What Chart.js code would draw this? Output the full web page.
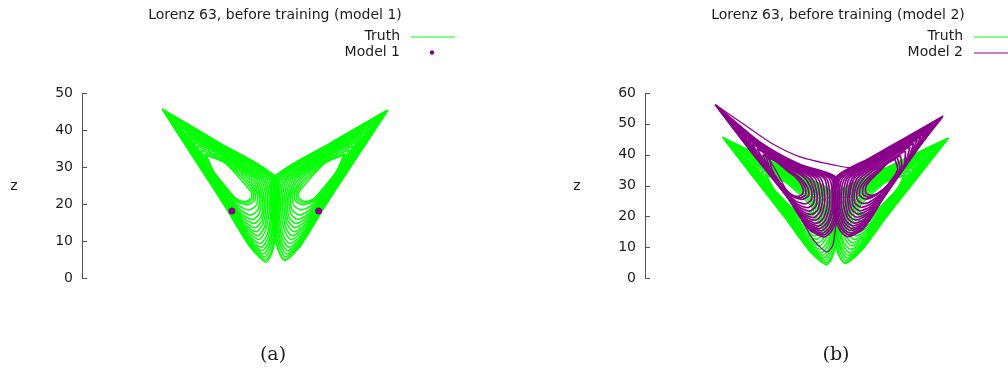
<!DOCTYPE html>
<html>
<head>
<meta charset="utf-8">
<script src="https://cdn.jsdelivr.net/npm/chart.js@4/dist/chart.umd.min.js"></script>
<style>
  html, body { margin: 0; padding: 0; background: #fff; width: 1008px; height: 372px; overflow: hidden; }
  .panel { position: absolute; top: 0; width: 504px; height: 372px; }
  #panelA { left: 0; }
  #panelB { left: 563px; }
</style>
</head>
<body>
<div class="panel" id="panelA"><canvas id="chartA" width="504" height="372"></canvas></div>
<div class="panel" id="panelB"><canvas id="chartB" width="504" height="372"></canvas></div>
<script>
// Lorenz 63 trajectories projected on the x–z plane.
// Each loop is a flat list of (x, z) pairs going round one lobe of the attractor.

const zTicksA = [0, 10, 20, 30, 40, 50];
const zTicksB = [0, 10, 20, 30, 40, 50, 60];

// Truth: loops around the left fixed point, outermost first
const truthLeft = [
  [-20.2,45.7, -15.0,33.5, -9.0,19.5, -4.5,8.5, -1.6,4.3, -0.4,7.5, 0.6,17.0, 0.3,27.0, -10.0,36.6],
  [-19.9,45.2, -14.8,33.3, -9.0,19.7, -4.6,9.0, -1.7,4.9, -0.5,8.0, 0.4,17.2, 0.1,27.0, -9.9,36.4],
  [-19.5,44.6, -14.7,33.1, -9.0,19.9, -4.7,9.6, -1.9,5.7, -0.7,8.7, 0.2,17.6, -0.2,27.0, -9.9,36.1],
  [-19.1,44.0, -14.5,32.9, -8.9,20.1, -4.8,10.2, -2.1,6.5, -0.9,9.4, 0.0,17.9, -0.5,27.0, -9.8,35.8],
  [-18.7,43.3, -14.2,32.6, -8.9,20.4, -4.9,10.9, -2.3,7.4, -1.0,10.2, -0.2,18.2, -0.8,27.0, -9.7,35.4],
  [-18.2,42.6, -14.0,32.3, -8.9,20.7, -5.1,11.7, -2.5,8.3, -1.2,11.0, -0.5,18.6, -1.1,26.9, -9.6,35.1],
  [-17.8,41.8, -13.8,32.1, -8.9,20.9, -5.2,12.4, -2.7,9.3, -1.4,11.8, -0.7,19.0, -1.5,26.9, -9.5,34.7],
  [-17.2,41.0, -13.5,31.7, -8.8,21.3, -5.3,13.2, -2.9,10.4, -1.7,12.8, -1.0,19.4, -1.9,26.9, -9.4,34.3],
  [-16.7,40.1, -13.3,31.4, -8.8,21.6, -5.5,14.1, -3.1,11.4, -1.9,13.7, -1.3,19.9, -2.2,26.9, -9.3,33.9],
  [-16.2,39.3, -13.0,31.1, -8.8,21.9, -5.6,14.9, -3.4,12.5, -2.1,14.7, -1.6,20.3, -2.6,26.9, -9.2,33.5],
  [-15.6,38.4, -12.7,30.8, -8.8,22.2, -5.8,15.8, -3.6,13.6, -2.3,15.6, -1.9,20.7, -3.0,26.9, -9.0,33.1],
  [-15.1,37.6, -12.5,30.5, -8.7,22.5, -5.9,16.6, -3.8,14.7, -2.5,16.5, -2.2,21.2, -3.4,26.9, -8.9,32.7],
  [-14.6,36.8, -12.2,30.2, -8.7,22.8, -6.1,17.5, -4.0,15.8, -2.8,17.5, -2.5,21.6, -3.8,26.9, -8.8,32.3],
  [-14.0,35.8, -11.9,29.8, -8.7,23.2, -6.2,18.4, -4.3,17.0, -3.0,18.6, -2.8,22.1, -4.2,26.8, -8.7,31.8],
  [-13.3,34.7, -11.5,29.4, -8.6,23.6, -6.4,19.5, -4.6,18.4, -3.3,19.8, -3.2,22.6, -4.7,26.8, -8.5,31.3],
  [-12.6,33.6, -11.2,29.0, -8.6,24.0, -6.6,20.6, -4.9,19.8, -3.6,21.0, -3.6,23.2, -5.2,26.8, -8.4,30.8],
  [-12.5,33.5, -11.1,28.9, -8.8,24.4, -6.8,21.0, -5.2,20.3, -4.0,21.2, -3.9,23.1, -5.6,26.6, -8.7,31.0],
  [-12.3,33.3, -11.0,28.8, -8.9,24.8, -6.9,21.4, -5.4,20.7, -4.3,21.5, -4.2,23.0, -6.0,26.4, -9.0,31.2]
];

// Truth: loops around the right fixed point
const truthRight = [
  [20.2,45.4, 15.0,33.4, 9.0,19.6, 4.6,8.8, 1.8,4.8, 0.5,7.8, -0.6,17.0, -0.3,27.0, 10.0,36.5],
  [19.9,45.2, 14.8,33.3, 9.0,19.7, 4.6,9.0, 1.7,4.9, 0.5,8.0, -0.4,17.2, -0.1,27.0, 9.9,36.4],
  [19.5,44.6, 14.7,33.1, 9.0,19.9, 4.7,9.6, 1.9,5.7, 0.7,8.7, -0.2,17.6, 0.2,27.0, 9.9,36.1],
  [19.1,44.0, 14.5,32.9, 8.9,20.1, 4.8,10.2, 2.1,6.5, 0.9,9.4, 0.0,17.9, 0.5,27.0, 9.8,35.8],
  [18.7,43.3, 14.2,32.6, 8.9,20.4, 4.9,10.9, 2.3,7.4, 1.0,10.2, 0.2,18.2, 0.8,27.0, 9.7,35.4],
  [18.2,42.6, 14.0,32.3, 8.9,20.7, 5.1,11.7, 2.5,8.3, 1.2,11.0, 0.5,18.6, 1.1,26.9, 9.6,35.1],
  [17.8,41.8, 13.8,32.1, 8.9,20.9, 5.2,12.4, 2.7,9.3, 1.4,11.8, 0.7,19.0, 1.5,26.9, 9.5,34.7],
  [17.2,41.0, 13.5,31.7, 8.8,21.3, 5.3,13.2, 2.9,10.4, 1.7,12.8, 1.0,19.4, 1.9,26.9, 9.4,34.3],
  [16.7,40.1, 13.3,31.4, 8.8,21.6, 5.5,14.1, 3.1,11.4, 1.9,13.7, 1.3,19.9, 2.2,26.9, 9.3,33.9],
  [16.2,39.3, 13.0,31.1, 8.8,21.9, 5.6,14.9, 3.4,12.5, 2.1,14.7, 1.6,20.3, 2.6,26.9, 9.2,33.5],
  [15.6,38.4, 12.7,30.8, 8.8,22.2, 5.8,15.8, 3.6,13.6, 2.3,15.6, 1.9,20.7, 3.0,26.9, 9.0,33.1],
  [15.1,37.6, 12.5,30.5, 8.7,22.5, 5.9,16.6, 3.8,14.7, 2.5,16.5, 2.2,21.2, 3.4,26.9, 8.9,32.7],
  [14.6,36.8, 12.2,30.2, 8.7,22.8, 6.1,17.5, 4.0,15.8, 2.8,17.5, 2.5,21.6, 3.8,26.9, 8.8,32.3],
  [14.0,35.8, 11.9,29.8, 8.7,23.2, 6.2,18.4, 4.3,17.0, 3.0,18.6, 2.8,22.1, 4.2,26.8, 8.7,31.8],
  [13.3,34.7, 11.5,29.4, 8.6,23.6, 6.4,19.5, 4.6,18.4, 3.3,19.8, 3.2,22.6, 4.7,26.8, 8.5,31.3],
  [12.6,33.6, 11.2,29.0, 8.6,24.0, 6.6,20.6, 4.9,19.8, 3.6,21.0, 3.6,23.2, 5.2,26.8, 8.4,30.8],
  [12.5,33.5, 11.1,28.9, 8.8,24.4, 6.8,21.0, 5.2,20.3, 4.0,21.2, 3.9,23.1, 5.6,26.6, 8.7,31.0],
  [12.3,33.3, 11.0,28.8, 8.9,24.8, 6.9,21.4, 5.4,20.7, 4.3,21.5, 4.2,23.0, 6.0,26.4, 9.0,31.2]
];

// Model 1 before training: settles on its two fixed points
const model1X = [-7.7, 7.8];
const model1Z = [18.1, 18.1];

// Model 2 before training: loops around its left lobe
const model2Left = [
  [-21.5,56.3, -15.5,42.0, -8.7,26.4, -4.8,16.0, -2.0,13.3, -0.6,15.5, 0.6,22.0, 0.2,32.5, -6.3,36.8, -13.4,44.0],
  [-21.1,55.5, -15.3,41.7, -8.7,26.6, -4.9,16.5, -2.2,13.9, -0.8,16.1, 0.3,22.4, -0.1,32.5, -6.4,36.7, -13.3,43.7],
  [-20.7,54.7, -15.2,41.4, -8.8,26.8, -5.1,17.1, -2.4,14.5, -1.0,16.6, 0.0,22.8, -0.5,32.5, -6.5,36.7, -13.2,43.4],
  [-20.1,53.7, -14.9,41.0, -8.8,27.0, -5.3,17.7, -2.6,15.3, -1.3,17.3, -0.3,23.2, -0.8,32.5, -6.7,36.6, -13.0,43.1],
  [-19.6,52.7, -14.7,40.7, -8.9,27.2, -5.4,18.3, -2.9,16.0, -1.5,18.0, -0.6,23.7, -1.2,32.5, -6.8,36.5, -12.9,42.8],
  [-19.0,51.6, -14.5,40.3, -8.9,27.4, -5.6,19.1, -3.1,16.8, -1.8,18.8, -1.0,24.2, -1.7,32.5, -6.9,36.4, -12.7,42.4],
  [-18.4,50.4, -14.2,39.8, -9.0,27.7, -5.8,19.8, -3.4,17.7, -2.1,19.6, -1.4,24.7, -2.1,32.5, -7.1,36.3, -12.5,42.0],
  [-17.8,49.1, -14.0,39.4, -9.1,28.0, -6.0,20.6, -3.7,18.7, -2.5,20.5, -1.9,25.3, -2.7,32.5, -7.3,36.1, -12.3,41.5],
  [-17.1,47.8, -13.7,38.9, -9.1,28.3, -6.3,21.5, -4.0,19.6, -2.8,21.4, -2.3,25.9, -3.2,32.5, -7.4,36.0, -12.2,41.0],
  [-16.4,46.5, -13.4,38.4, -9.2,28.6, -6.5,22.3, -4.3,20.6, -3.1,22.3, -2.8,26.5, -3.7,32.5, -7.6,35.9, -12.0,40.6],
  [-15.6,45.1, -13.1,37.9, -9.3,28.9, -6.7,23.3, -4.7,21.7, -3.5,23.3, -3.3,27.2, -4.3,32.5, -7.8,35.8, -11.7,40.1],
  [-14.9,43.6, -12.8,37.3, -9.3,29.2, -7.0,24.2, -5.0,22.8, -3.9,24.3, -3.8,27.9, -4.9,32.5, -8.0,35.6, -11.5,39.6],
  [-14.0,42.0, -12.4,36.7, -9.4,29.6, -7.3,25.2, -5.4,24.0, -4.3,25.4, -4.3,28.6, -5.5,32.5, -8.2,35.5, -11.3,39.0],
  [-13.0,40.0, -12.0,36.0, -9.5,30.0, -7.6,26.5, -5.9,25.5, -4.8,26.8, -5.0,29.5, -6.3,32.5, -8.5,35.3, -11.0,38.3],
  [-12.4,39.5, -11.7,35.5, -9.4,29.7, -7.7,26.7, -6.2,26.0, -5.3,27.1, -5.5,29.7, -6.6,32.5, -8.6,35.1, -10.7,37.9],
  [-11.8,39.0, -11.3,35.0, -9.3,29.5, -7.8,27.0, -6.6,26.5, -5.8,27.5, -6.0,30.0, -7.0,32.5, -8.7,34.9, -10.4,37.6]
];

// Model 2 before training: loops around its right lobe
const model2Right = [
  [19.2,52.5, 14.7,42.0, 8.3,25.3, 5.0,16.0, 2.2,13.4, 0.8,15.5, -0.4,22.0, 0.0,32.5, 6.0,38.8, 12.5,45.5],
  [18.8,51.9, 14.6,41.7, 8.4,25.5, 5.1,16.5, 2.4,14.0, 1.0,16.1, -0.2,22.4, 0.3,32.5, 6.1,38.6, 12.4,45.1],
  [18.4,51.2, 14.4,41.4, 8.4,25.8, 5.2,17.1, 2.5,14.6, 1.2,16.6, 0.1,22.8, 0.6,32.5, 6.2,38.4, 12.2,44.7],
  [18.0,50.5, 14.2,41.0, 8.5,26.1, 5.3,17.7, 2.7,15.4, 1.4,17.3, 0.4,23.2, 0.9,32.5, 6.3,38.2, 12.0,44.3],
  [17.5,49.7, 14.1,40.6, 8.5,26.3, 5.4,18.3, 2.9,16.1, 1.6,18.0, 0.7,23.7, 1.3,32.5, 6.4,38.0, 11.9,43.8],
  [17.0,48.8, 13.9,40.1, 8.6,26.7, 5.6,19.1, 3.1,16.9, 1.8,18.8, 1.0,24.2, 1.7,32.4, 6.5,37.8, 11.7,43.3],
  [16.5,47.9, 13.7,39.7, 8.7,27.0, 5.7,19.8, 3.4,17.8, 2.1,19.6, 1.4,24.7, 2.1,32.4, 6.6,37.5, 11.5,42.7],
  [15.9,46.9, 13.4,39.1, 8.8,27.4, 5.8,20.7, 3.6,18.8, 2.3,20.5, 1.8,25.3, 2.5,32.4, 6.7,37.2, 11.2,42.1],
  [15.3,45.9, 13.2,38.6, 8.9,27.7, 6.0,21.5, 3.9,19.7, 2.6,21.4, 2.2,25.9, 3.0,32.4, 6.8,36.9, 11.0,41.5],
  [14.6,44.9, 13.0,38.1, 9.0,28.1, 6.1,22.4, 4.1,20.7, 2.9,22.3, 2.5,26.5, 3.4,32.4, 7.0,36.6, 10.8,40.9],
  [14.0,43.7, 12.7,37.5, 9.1,28.5, 6.3,23.3, 4.4,21.8, 3.2,23.3, 3.0,27.2, 3.9,32.4, 7.1,36.3, 10.5,40.2],
  [13.3,42.6, 12.4,36.9, 9.2,29.0, 6.5,24.3, 4.7,22.9, 3.5,24.3, 3.4,27.9, 4.4,32.3, 7.2,36.0, 10.2,39.5],
  [12.5,41.3, 12.2,36.3, 9.3,29.4, 6.7,25.3, 5.0,24.1, 3.9,25.4, 3.9,28.6, 5.0,32.3, 7.4,35.6, 10.0,38.7],
  [11.6,39.8, 11.8,35.5, 9.4,30.0, 6.9,26.6, 5.4,25.6, 4.3,26.8, 4.5,29.5, 5.7,32.3, 7.6,35.2, 9.6,37.8],
  [11.0,39.2, 11.5,35.3, 9.3,30.0, 7.3,27.0, 5.9,26.2, 4.9,27.2, 5.0,29.7, 6.2,32.3, 7.9,35.1, 9.4,37.5],
  [10.6,38.6, 11.1,35.0, 9.2,30.0, 7.5,27.4, 6.3,26.8, 5.4,27.6, 5.5,30.0, 6.6,32.4, 8.1,35.0, 9.3,37.2]
];

// Model 2: two excursions that leave the dense band (open paths)
const model2Strays = [
  [-21.3,56.0, -16.5,50.0, -11.5,43.8, -6.3,39.3, -0.4,36.7, 3.8,35.6, 7.5,38.5],
  [-20.8,55.2, -15.0,45.0, -11.5,37.5, -7.5,24.0, -4.2,13.0, -2.3,9.3, -1.4,8.5, -0.5,10.5, 0.0,16.0, 0.3,24.0]
];

const GREEN = '#00ff00';
const PURPLE = '#8b008b';
const TEXT = '#1c1c1c';
const AXIS = '#505050';
const SANS = '"DejaVu Sans", sans-serif';

function toPoints(flat, close) {
  const pts = [];
  for (let i = 0; i < flat.length; i += 2) pts.push({ x: flat[i], y: flat[i + 1] });
  if (close) pts.push({ x: flat[0], y: flat[1] });
  return pts;
}

function pathSets(list, color, close, order, width) {
  return list.map(flat => ({
    data: toPoints(flat, close),
    showLine: true,
    borderColor: color,
    borderWidth: width,
    pointRadius: 0,
    tension: 0.25,
    fill: false,
    order: order
  }));
}

// axis ticks pointing into the plot, title, legend, axis label and caption
const decor = {
  id: 'decor',
  afterDraw(chart, args, o) {
    const { ctx, chartArea: a, scales: { y } } = chart;
    ctx.save();
    ctx.strokeStyle = AXIS;
    ctx.lineWidth = 1;
    y.ticks.forEach(t => {
      const py = Math.round(y.getPixelForValue(t.value)) + 0.5;
      ctx.beginPath();
      ctx.moveTo(a.left, py);
      ctx.lineTo(a.left + 5, py);
      ctx.stroke();
    });

    ctx.fillStyle = TEXT;
    ctx.font = '14px ' + SANS;
    ctx.textBaseline = 'middle';
    ctx.textAlign = 'center';
    ctx.fillText(o.title, (a.left + a.right) / 2, 15);
    ctx.fillText('z', 14, 186);

    ctx.textAlign = 'right';
    o.legend.forEach((e, i) => {
      const ly = 36 + i * 16;
      ctx.fillStyle = TEXT;
      ctx.fillText(e.label, 400, ly);
      if (e.kind === 'line') {
        ctx.strokeStyle = e.color;
        ctx.lineWidth = 1;
        ctx.beginPath();
        ctx.moveTo(411, ly + 1);
        ctx.lineTo(455, ly + 1);
        ctx.stroke();
      } else {
        ctx.fillStyle = e.color;
        ctx.beginPath();
        ctx.arc(432, ly + 0.5, 2.2, 0, Math.PI * 2);
        ctx.fill();
      }
    });

    ctx.fillStyle = TEXT;
    ctx.textAlign = 'center';
    ctx.font = '19px "DejaVu Serif", serif';
    ctx.fillText(o.caption, 273, 355);
    ctx.restore();
  }
};

function makeOptions(xMin, xMax, ticks, decorOpts) {
  return {
    responsive: false,
    animation: false,
    events: [],
    layout: { padding: { left: 0, right: 36, top: 93, bottom: 94 } },
    scales: {
      x: { type: 'linear', min: xMin, max: xMax, display: false },
      y: {
        type: 'linear',
        min: ticks[0],
        max: ticks[ticks.length - 1],
        afterFit(scale) { scale.width = 82; },
        afterBuildTicks(scale) { scale.ticks = ticks.map(v => ({ value: v })); },
        ticks: { color: TEXT, font: { family: 'DejaVu Sans', size: 14 }, padding: 9 },
        grid: { display: false, drawTicks: false },
        border: { display: true, color: AXIS, width: 1 }
      }
    },
    plugins: { legend: { display: false }, tooltip: { enabled: false }, decor: decorOpts }
  };
}

// (a) truth with model 1
new Chart(document.getElementById('chartA'), {
  type: 'scatter',
  data: {
    datasets: [
      ...pathSets(truthLeft, GREEN, true, 2, 1.5),
      ...pathSets(truthRight, GREEN, true, 2, 1.5),
      {
        data: model1X.map((x, i) => ({ x: x, y: model1Z[i] })),
        showLine: false,
        pointRadius: 3.5,
        pointBackgroundColor: PURPLE,
        pointBorderColor: PURPLE,
        pointBorderWidth: 0,
        order: 0
      }
    ]
  },
  options: makeOptions(-34.5, 34.5, zTicksA, {
    title: 'Lorenz 63, before training (model 1)',
    caption: '(a)',
    legend: [
      { label: 'Truth', kind: 'line', color: GREEN },
      { label: 'Model 1', kind: 'dot', color: PURPLE }
    ]
  }),
  plugins: [decor]
});

// (b) truth with model 2
new Chart(document.getElementById('chartB'), {
  type: 'scatter',
  data: {
    datasets: [
      ...pathSets(truthLeft, GREEN, true, 2, 1.5),
      ...pathSets(truthRight, GREEN, true, 2, 1.5),
      ...pathSets(model2Left, PURPLE, true, 0, 1.7),
      ...pathSets(model2Right, PURPLE, true, 0, 1.7),
      ...pathSets(model2Strays, PURPLE, false, 0, 1.2)
    ]
  },
  options: makeOptions(-34.0, 34.9, zTicksB, {
    title: 'Lorenz 63, before training (model 2)',
    caption: '(b)',
    legend: [
      { label: 'Truth', kind: 'line', color: GREEN },
      { label: 'Model 2', kind: 'line', color: PURPLE }
    ]
  }),
  plugins: [decor]
});
</script>
</body>
</html>
